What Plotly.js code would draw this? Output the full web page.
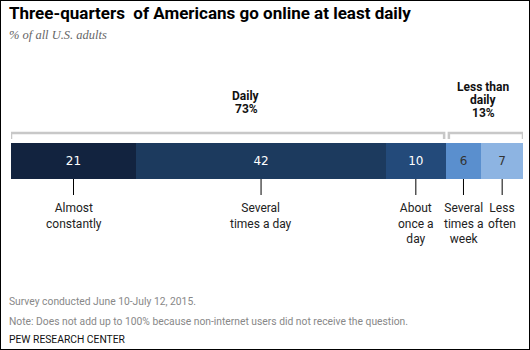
<!DOCTYPE html>
<html>
<head>
<meta charset="utf-8">
<script src="https://cdn.plot.ly/plotly-3.0.1.min.js"></script>
<style>
html,body{margin:0;padding:0;background:#fff;}
#wrap{position:relative;width:530px;height:350px;}
#chart{width:530px;height:350px;}
#frame{position:absolute;left:0;top:0;width:530px;height:350px;box-sizing:border-box;border:1px solid #000;pointer-events:none;}
</style>
</head>
<body>
<div id="wrap"><div id="chart"></div><div id="frame"></div></div>
<script>
// ---- data ----
const categories = ["Almost constantly", "Several times a day", "About once a day", "Several times a week", "Less often"];
const categoryLabels = ["Almost<br>constantly", "Several<br>times a day", "About<br>once a<br>day", "Several<br>times a<br>week", "Less<br>often"];
const values = [21, 42, 10, 6, 7];
const groupNameLines = [["Daily"], ["Less than", "daily"]];
const groupTotals = [73, 13];
const groupStart = [0, 3];   // index of first category in each group
const groupEnd = [2, 4];     // index of last category in each group

// ---- styles ----
const colors = ["#12233f", "#1c3a5e", "#234a7a", "#5a8fce", "#8db4e2"];
const valueTextColors = ["#ffffff", "#ffffff", "#ffffff", "#333333", "#333333"];
const W = 530, H = 350;
const L = 11, R = 7, T = 143, B = 171;
const PW = W - L - R, PH = H - T - B;
const bottomPx = H - B;
const total = values.reduce((a, b) => a + b, 0);
function PX(px) { return (px - L) / PW; }
function PY(py) { return (bottomPx - py) / PH; }
const sans = "'Liberation Sans Narrow', 'Roboto', 'Liberation Sans', sans-serif";

const cum = [];
let acc = 0;
values.forEach(v => { cum.push(acc); acc += v; });
const mids = values.map((v, i) => cum[i] + v / 2);

const traces = values.map((v, i) => ({
  type: "bar",
  orientation: "h",
  x: [v],
  y: [0],
  name: categories[i],
  marker: { color: colors[i], line: { width: 0 } },
  text: [String(v)],
  textposition: "inside",
  insidetextanchor: "middle",
  textfont: { color: valueTextColors[i], size: 12, family: "'DejaVu Sans', sans-serif" },
  hoverinfo: "skip"
}));

const annotations = [];
const shapes = [];

// category labels and tick lines
categoryLabels.forEach((lab, i) => {
  annotations.push({
    xref: "x", yref: "paper", x: mids[i], y: PY(199),
    text: lab, showarrow: false, xanchor: "center", yanchor: "top",
    font: { size: 12, color: "#222", family: sans }, align: "center"
  });
  shapes.push({
    type: "line", xref: "x", yref: "paper",
    x0: mids[i], x1: mids[i], y0: PY(179), y1: PY(195),
    line: { color: "#000", width: 1 }
  });
});

// group brackets and labels
const bracketOffsets = [[0, -0.25], [0.55, 0]];
groupTotals.forEach((gt, gi) => {
  const x0 = cum[groupStart[gi]] + bracketOffsets[gi][0];
  const x1 = cum[groupEnd[gi]] + values[groupEnd[gi]] + bracketOffsets[gi][1];
  shapes.push({
    type: "path", xref: "x", yref: "paper",
    path: `M ${x0} ${PY(139)} L ${x0} ${PY(133)} L ${x1} ${PY(133)} L ${x1} ${PY(139)}`,
    line: { color: "#c8c8c8", width: 2.5 }
  });
});
const groupLabelX = [246, 483];
const groupLabelTop = [96, 87];
groupTotals.forEach((gt, gi) => {
  const lines = groupNameLines[gi].concat([gt + "%"]);
  lines.forEach((ln, li) => {
    annotations.push({
      xref: "paper", yref: "paper", x: PX(groupLabelX[gi]), y: PY(groupLabelTop[gi] + li * 13),
      text: "<b>" + ln + "</b>",
      showarrow: false, xanchor: "center", yanchor: "middle", align: "center",
      font: { size: 12, color: "#111", family: sans }
    });
  });
});

// title, subtitle, notes
annotations.push({
  xref: "paper", yref: "paper", x: PX(7), y: PY(13),
  text: "<b>Three-quarters\u00a0 of Americans go online at least daily</b>",
  showarrow: false, xanchor: "left", yanchor: "middle",
  font: { size: 17, color: "#000", family: sans }
});
annotations.push({
  xref: "paper", yref: "paper", x: PX(7), y: PY(35),
  text: "<i>% of all U.S. adults</i>",
  showarrow: false, xanchor: "left", yanchor: "middle",
  font: { size: 12.5, color: "#666", family: "'Liberation Serif', 'DejaVu Serif', serif" }
});
annotations.push({
  xref: "paper", yref: "paper", x: PX(7), y: PY(301),
  text: "Survey conducted June 10-July 12, 2015.",
  showarrow: false, xanchor: "left", yanchor: "middle",
  font: { size: 10.3, color: "#888", family: sans }
});
annotations.push({
  xref: "paper", yref: "paper", x: PX(7), y: PY(321),
  text: "Note: Does not add up to 100% because non-internet users did not receive the question.",
  showarrow: false, xanchor: "left", yanchor: "middle",
  font: { size: 10.3, color: "#888", family: sans }
});
annotations.push({
  xref: "paper", yref: "paper", x: PX(7), y: PY(339),
  text: "PEW RESEARCH CENTER",
  showarrow: false, xanchor: "left", yanchor: "middle",
  font: { size: 10.3, color: "#111", family: sans }
});

const layout = {
  width: W, height: H,
  margin: { l: L, r: R, t: T, b: B, pad: 0 },
  barmode: "stack",
  bargap: 0,
  showlegend: false,
  paper_bgcolor: "#fff",
  plot_bgcolor: "#fff",
  xaxis: { range: [0, total], visible: false, fixedrange: true },
  yaxis: { range: [-0.5, 0.5], visible: false, fixedrange: true },
  annotations: annotations,
  shapes: shapes,
  uniformtext: { mode: false }
};

Plotly.newPlot("chart", traces, layout, { displayModeBar: false, staticPlot: true });
</script>
</body>
</html>
